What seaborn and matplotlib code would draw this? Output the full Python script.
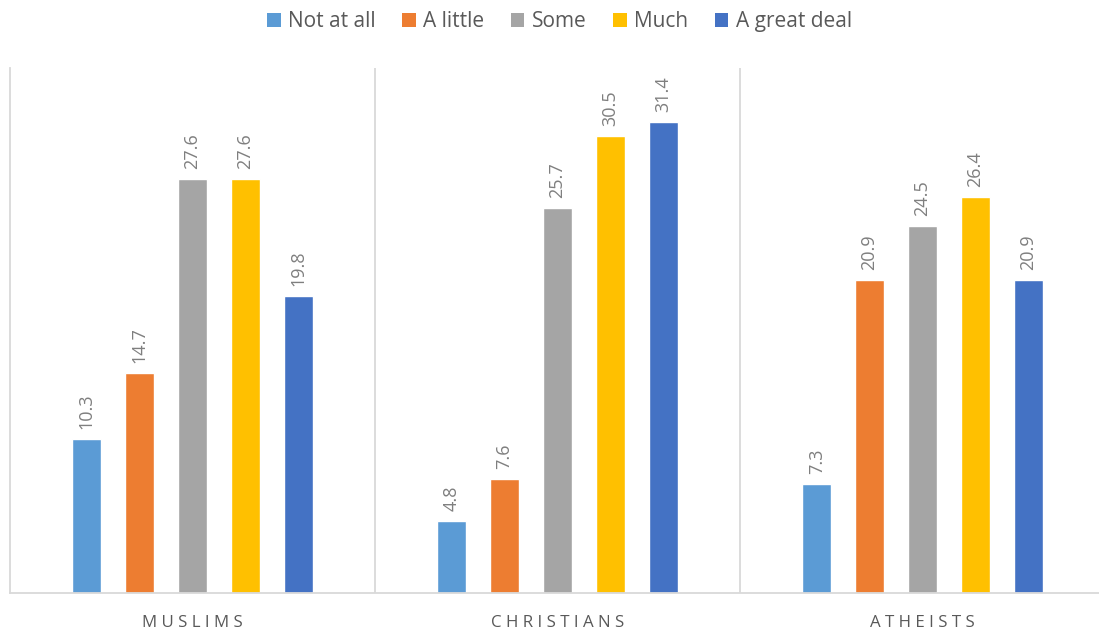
import matplotlib
matplotlib.use("Agg")
import matplotlib.pyplot as plt
import seaborn as sns
import pandas as pd
from matplotlib.patches import Patch

groups = ["MUSLIMS", "CHRISTIANS", "ATHEISTS"]
levels = ["Not at all", "A little", "Some", "Much", "A great deal"]
not_at_all = [10.3, 4.8, 7.3]
a_little = [14.7, 7.6, 20.9]
some = [27.6, 25.7, 24.5]
much = [27.6, 30.5, 26.4]
great_deal = [19.8, 31.4, 20.9]
colors = ["#5B9BD5", "#ED7D31", "#A5A5A5", "#FFC000", "#4472C4"]

series = [not_at_all, a_little, some, much, great_deal]
rows = []
for lvl, vals in zip(levels, series):
    for g, v in zip(groups, vals):
        rows.append({"group": g, "level": lvl, "value": v})
df = pd.DataFrame(rows)

sns.set_theme(style="white")
plt.rcParams["font.family"] = ["Open Sans", "DejaVu Sans"]

fig = plt.figure(figsize=(10.99, 6.37), dpi=100)
ax = fig.add_axes([10 / 1099, 44 / 637, 1095 / 1099, 525 / 637])

sns.barplot(data=df, x="group", y="value", hue="level", order=groups,
            hue_order=levels, palette=colors, width=0.725, gap=0.455,
            saturation=1, legend=False, ax=ax)

for cont in ax.containers:
    ax.bar_label(cont, fmt="%.1f", rotation=90, padding=7,
                 fontsize=13, color="#7F7F7F")

ax.set_xlim(-0.5, 2.5)
ax.set_ylim(0, 35)
ax.set_yticks([])
ax.set_xlabel("")
ax.set_ylabel("")
ax.set_xticks(range(3))
ax.set_xticklabels([" ".join(g) for g in groups], fontsize=12.2,
                   color="#595959")
ax.tick_params(axis="x", length=0, pad=16)

for s in ["top", "right"]:
    ax.spines[s].set_visible(False)
for s in ["left", "bottom"]:
    ax.spines[s].set_color("#D9D9D9")
    ax.spines[s].set_linewidth(1.3)
for xv in [0.5, 1.5]:
    ax.axvline(xv, color="#D9D9D9", lw=1.3, zorder=0)

handles = [Patch(facecolor=c, edgecolor="none") for c in colors]
fig.legend(handles, levels, loc="upper center", bbox_to_anchor=(0.509, 1.012),
           ncol=5, frameon=False, fontsize=15, handlelength=0.65,
           handleheight=0.65, handletextpad=0.35, columnspacing=1.28,
           labelcolor="#595959")

fig.savefig("out.png", dpi=100)
